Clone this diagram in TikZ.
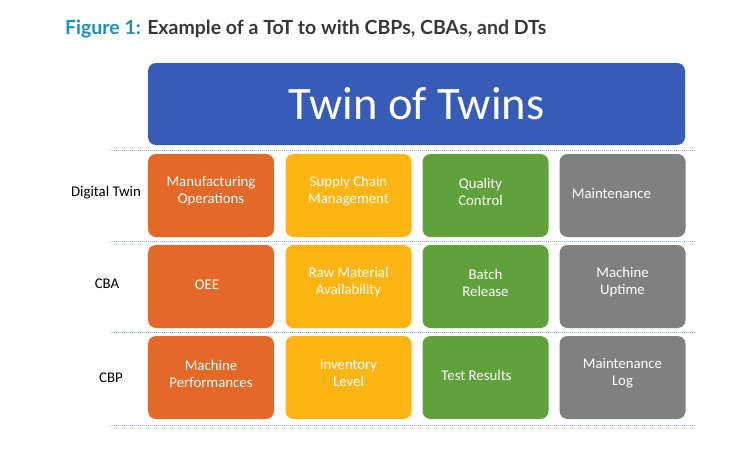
\documentclass[tikz,border=0pt]{standalone}
\usepackage{fontspec}
\setmainfont{Carlito}
\newfontfamily\titlefont{Lato}
\definecolor{totblue}{HTML}{365CB8}
\definecolor{totorange}{HTML}{E46827}
\definecolor{totyellow}{HTML}{FDB514}
\definecolor{totgreen}{HTML}{5FA23B}
\definecolor{totgray}{HTML}{808080}
\definecolor{figblue}{HTML}{1B8EC2}
\definecolor{figtext}{HTML}{383838}
\definecolor{dotline}{HTML}{9CAAD2}
\tikzset{
  cell/.style={rounded corners=8pt, minimum width=126pt, minimum height=83pt, inner sep=0pt},
  celltext/.style={text=white, align=center, font=\fontsize{14.8}{17}\selectfont, inner sep=0pt},
  rowlabel/.style={font=\fontsize{14.8}{17}\selectfont, text=black, inner sep=0pt},
  sep/.style={dotline, line width=0.8pt, dash pattern=on 0.8pt off 1.2pt},
}
\begin{document}
\begin{tikzpicture}[x=1pt,y=-1pt]
\useasboundingbox (0,0) rectangle (750,450);
\fill[white] (0,0) rectangle (750,450);
% title
\node[anchor=base west, inner sep=0pt, font=\titlefont\bfseries\fontsize{19.5}{22}\selectfont] (title) at (65,34)
  {\textcolor{figblue}{Figure 1:} \textcolor{figtext}{Example of a ToT to with CBPs, CBAs, and DTs}};
% top box
\node[fill=totblue, rounded corners=8pt, minimum width=537pt, minimum height=82pt,
  text=white, font=\fontsize{46.5}{52}\selectfont, inner sep=0pt] (tot) at (416.5,104) {Twin of Twins};
% separators
\coordinate (s1l) at (110,150); \coordinate (s1r) at (695,150);
\coordinate (s2l) at (110,241); \coordinate (s2r) at (695,241);
\coordinate (s3l) at (110,332.5); \coordinate (s3r) at (695,332.5);
\coordinate (s4l) at (110,425); \coordinate (s4r) at (695,425);
\draw[sep] (s1l) -- (s1r);
\draw[sep] (s2l) -- (s2r);
\draw[sep] (s3l) -- (s3r);
\draw[sep] (s4l) -- (s4r);
% row labels
\node[rowlabel] (ldt) at (106,193) {Digital Twin};
\node[rowlabel] (lcba) at (107,284) {CBA};
\node[rowlabel] (lcbp) at (111,378) {CBP};
% row 1
\node[cell, fill=totorange] (r1c1) at (211,195.5) {};
\node[cell, fill=totyellow] (r1c2) at (348.5,195.5) {};
\node[cell, fill=totgreen] (r1c3) at (485.5,195.5) {};
\node[cell, fill=totgray] (r1c4) at (622.5,195.5) {};
\node[celltext] (t1c1) at ([yshift=4pt]r1c1.center) {Manufacturing\\Operations};
\node[celltext] (t1c2) at ([yshift=4pt]r1c2.center) {Supply Chain\\Management};
\node[celltext] (t1c3) at ([xshift=-5pt,yshift=4pt]r1c3.center) {Quality\\Control};
\node[celltext] (t1c4) at ([xshift=-11pt,yshift=2pt]r1c4.center) {Maintenance};
% row 2
\node[cell, fill=totorange] (r2c1) at (211,286.5) {};
\node[cell, fill=totyellow] (r2c2) at (348.5,286.5) {};
\node[cell, fill=totgreen] (r2c3) at (485.5,286.5) {};
\node[cell, fill=totgray] (r2c4) at (622.5,286.5) {};
\node[celltext] (t2c1) at ([xshift=-4pt,yshift=2pt]r2c1.center) {OEE};
\node[celltext] (t2c2) at ([yshift=4pt]r2c2.center) {Raw Material\\Availability};
\node[celltext] (t2c3) at ([yshift=4pt]r2c3.center) {Batch\\Release};
\node[celltext] (t2c4) at ([yshift=4pt]r2c4.center) {Machine\\Uptime};
% row 3
\node[cell, fill=totorange] (r3c1) at (211,377.5) {};
\node[cell, fill=totyellow] (r3c2) at (348.5,377.5) {};
\node[cell, fill=totgreen] (r3c3) at (485.5,377.5) {};
\node[cell, fill=totgray] (r3c4) at (622.5,377.5) {};
\node[celltext] (t3c1) at ([yshift=4pt]r3c1.center) {Machine\\Performances};
\node[celltext] (t3c2) at ([yshift=4pt]r3c2.center) {Inventory\\Level};
\node[celltext] (t3c3) at ([xshift=-9pt,yshift=2pt]r3c3.center) {Test Results};
\node[celltext] (t3c4) at ([yshift=4pt]r3c4.center) {Maintenance\\Log};
\end{tikzpicture}
\end{document}
